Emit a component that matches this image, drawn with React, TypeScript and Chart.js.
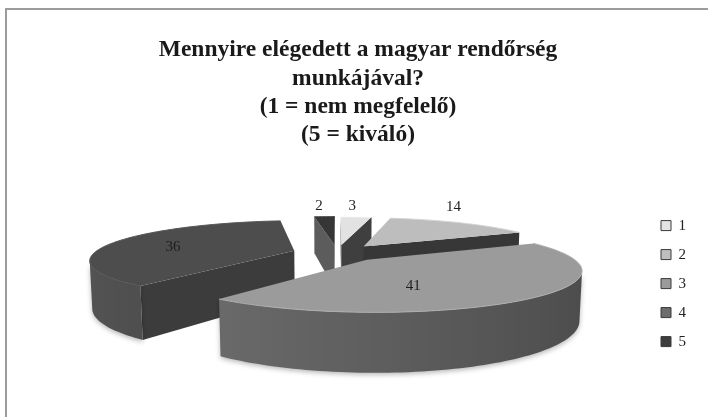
import React, { useEffect, useRef } from 'react';
import { Chart, registerables } from 'chart.js';

Chart.register(...registerables);

// ---------- data ----------
const categories = ['1', '2', '3', '4', '5'];
const values = [3, 14, 41, 36, 2];
const titleLines = [
  'Mennyire elégedett a magyar rendőrség',
  'munkájával?',
  '(1 = nem megfelelő)',
  '(5 = kiváló)',
];

// ---------- styles ----------
const legendColors = ['#e3e3e3', '#bfbfbf', '#9b9b9b', '#6d6d6d', '#3d3d3d'];
const topColors = ['#e2e2e2', '#bdbdbd', '#9b9b9b', '#4d4d4d', '#363636'];
const radialColors = ['#3f3f3f', '#373737', '#575757', '#3c3c3c', '#5c5c5c'];
const outerColors = ['#8c8c8c', '#7a7a7a', '#5e5e5e', '#464646', '#4a4a4a'];
const labelRadius = [0.7, 0.92, 0.59, 0.64, 0.7];
const labelAngleShift = [0, 0, 22, -6, -4];
const labelOutside = [true, true, false, false, true];

const SERIF = '"Times New Roman", "Liberation Serif", "DejaVu Serif", serif';

// 3D projection settings
const R = 200;
const H = 47;
const D = 900;
const SIN_T = 0.188;
const COS_T = Math.sqrt(1 - SIN_T * SIN_T);
const EXPLODE = 45;
const KX = 1;
const SHIFT_X = 3.7;
const SHIFT_Y = -30.6;

function rgbOf(hex: string, f: number): number[] {
  const n = parseInt(hex.slice(1), 16);
  return [(n >> 16) & 255, (n >> 8) & 255, n & 255].map((v) =>
    Math.max(0, Math.min(255, Math.round(v * f)))
  );
}
function shade(hex: string, f: number): string {
  const c = rgbOf(hex, f);
  return `rgb(${c[0]},${c[1]},${c[2]})`;
}

const pie3d = {
  id: 'pie3d',
  beforeDraw(chart: any) {
    const ctx = chart.ctx;
    ctx.save();
    ctx.fillStyle = '#ffffff';
    ctx.fillRect(0, 0, chart.width, chart.height);
    ctx.fillStyle = '#9c9c9c';
    ctx.fillRect(5, 8, chart.width, 2);
    ctx.fillRect(5, 8, 2, chart.height);
    ctx.restore();
  },
  beforeDatasetsDraw(chart: any) {
    const ctx = chart.ctx;
    const meta = chart.getDatasetMeta(0);
    const arcs = meta.data;
    if (!arcs.length) return false;
    const cx = arcs[0].x + SHIFT_X;
    const cy = arcs[0].y + SHIFT_Y;
    const cam = [0, D * SIN_T, D * COS_T];

    const project = (X: number, Y: number, Z: number) => {
      const up = Y * COS_T - Z * SIN_T;
      const fwd = D - (Y * SIN_T + Z * COS_T);
      const s = D / fwd;
      const sxs = 1 + (s - 1) * KX;
      return [cx + X * sxs, cy - up * s];
    };
    const visible = (n: number[], p: number[]) =>
      n[0] * (cam[0] - p[0]) + n[1] * (cam[1] - p[1]) + n[2] * (cam[2] - p[2]) > 0;
    const path = (pts: number[][]) => {
      ctx.beginPath();
      pts.forEach((p, i) => {
        const q = project(p[0], p[1], p[2]);
        if (i === 0) ctx.moveTo(q[0], q[1]);
        else ctx.lineTo(q[0], q[1]);
      });
      ctx.closePath();
    };
    const poly = (pts: number[][], fill: any) => {
      path(pts);
      ctx.fillStyle = fill;
      ctx.fill();
    };

    const slices = arcs.map((arc: any, i: number) => {
      const a0 = arc.startAngle;
      const a1 = arc.endAngle;
      const m = (a0 + a1) / 2;
      const ox = Math.cos(m) * EXPLODE;
      const oz = Math.sin(m) * EXPLODE;
      const ccx = ox + Math.cos(m) * R * 0.5;
      const ccz = oz + Math.sin(m) * R * 0.5;
      const dist = Math.hypot(cam[0] - ccx, cam[1], cam[2] - ccz);
      return { i, a0, a1, m, ox, oz, dist };
    });
    slices.sort((p: any, q: any) => q.dist - p.dist);

    ctx.save();
    const labelPos: any[] = [];
    slices.forEach((sl: any) => {
      const { i, a0, a1, ox, oz } = sl;
      const outer = (t: number, y: number) => [ox + Math.cos(t) * R, y, oz + Math.sin(t) * R];
      const n = Math.max(2, Math.ceil((a1 - a0) / (Math.PI / 120)));
      // radial faces
      const nStart = [Math.sin(a0), 0, -Math.cos(a0)];
      const pStart = outer(a0, 0);
      if (visible(nStart, [(ox + pStart[0]) / 2, -H / 2, (oz + pStart[2]) / 2])) {
        poly([[ox, 0, oz], outer(a0, 0), outer(a0, -H), [ox, -H, oz]], radialColors[i]);
      }
      const nEnd = [-Math.sin(a1), 0, Math.cos(a1)];
      const pEnd = outer(a1, 0);
      if (visible(nEnd, [(ox + pEnd[0]) / 2, -H / 2, (oz + pEnd[2]) / 2])) {
        poly([[ox, 0, oz], outer(a1, 0), outer(a1, -H), [ox, -H, oz]], radialColors[i]);
      }
      // outer curved side: contiguous visible runs drawn as one gradient polygon
      const vis: boolean[] = [];
      for (let k = 0; k < n; k++) {
        const tm = a0 + ((a1 - a0) * (k + 0.5)) / n;
        vis.push(visible([Math.cos(tm), 0, Math.sin(tm)], outer(tm, -H / 2)));
      }
      let k = 0;
      while (k < n) {
        if (!vis[k]) { k++; continue; }
        let e = k;
        while (e < n && vis[e]) e++;
        const ts: number[] = [];
        for (let j = k; j <= e; j++) ts.push(a0 + ((a1 - a0) * j) / n);
        const pts = ts.map((t) => outer(t, 0)).concat(ts.slice().reverse().map((t) => outer(t, -H)));
        const xs = ts.map((t) => project(...(outer(t, 0) as [number, number, number]))[0]);
        const xmin = Math.min(...xs);
        const xmax = Math.max(...xs);
        const g = ctx.createLinearGradient(xmin, 0, xmax + 0.001, 0);
        ts.forEach((t, j) => {
          const f = 1 - 0.2 * Math.cos(t);
          const pos = (xs[j] - xmin) / (xmax - xmin + 0.001);
          g.addColorStop(Math.max(0, Math.min(1, pos)), shade(outerColors[i], f));
        });
        ctx.save();
        ctx.shadowColor = 'rgba(0,0,0,0.28)';
        ctx.shadowBlur = 5;
        ctx.shadowOffsetY = 2;
        poly(pts, g);
        ctx.restore();
        k = e;
      }
      // top
      const top: number[][] = [[ox, 0, oz]];
      for (let q = 0; q <= n; q++) top.push(outer(a0 + ((a1 - a0) * q) / n, 0));
      poly(top, topColors[i]);
      // rim highlight
      ctx.beginPath();
      for (let q = 0; q <= n; q++) {
        const pp = project(...(outer(a0 + ((a1 - a0) * q) / n, 0) as [number, number, number]));
        if (q === 0) ctx.moveTo(pp[0], pp[1]);
        else ctx.lineTo(pp[0], pp[1]);
      }
      ctx.strokeStyle = shade(topColors[i], 1.12);
      ctx.lineWidth = 1;
      ctx.stroke();

      // label position
      const lr = labelRadius[i] * R;
      const la = sl.m + (labelAngleShift[i] * Math.PI) / 180;
      const lp = project(ox + Math.cos(la) * lr, 0, oz + Math.sin(la) * lr);
      let ly = lp[1];
      if (labelOutside[i]) {
        let minY = Infinity;
        top.forEach((p) => {
          const q = project(p[0], p[1], p[2]);
          minY = Math.min(minY, q[1]);
        });
        ly = minY - 11;
      }
      labelPos[i] = [lp[0], ly];
    });

    ctx.fillStyle = '#1e1e1e';
    ctx.font = `15px ${SERIF}`;
    ctx.textAlign = 'center';
    ctx.textBaseline = 'middle';
    values.forEach((v, i) => {
      const p = labelPos[i];
      if (p) ctx.fillText(String(v), p[0], p[1]);
    });
    ctx.restore();
    return false;
  },
};

export default function App() {
  const ref = useRef<HTMLCanvasElement>(null);
  useEffect(() => {
    const chart = new Chart(ref.current as HTMLCanvasElement, {
      type: 'pie',
      data: {
        labels: categories,
        datasets: [
          {
            data: values,
            backgroundColor: legendColors,
            borderColor: '#3a3a3a',
            borderWidth: 1,
          },
        ],
      },
      options: {
        responsive: false,
        animation: false,
        events: [],
        layout: { padding: { left: 20, right: 12, top: 0, bottom: 9 } },
        plugins: {
          title: {
            display: true,
            text: titleLines,
            color: '#1a1a1a',
            font: { family: SERIF, size: 23.5, weight: 'bold', lineHeight: 1.204 },
            padding: { top: 36, bottom: 10 },
          },
          legend: {
            display: true,
            position: 'right',
            fullSize: false,
            labels: {
              boxWidth: 10,
              boxHeight: 10,
              padding: 14,
              color: '#222222',
              font: { family: SERIF, size: 15 },
            },
          },
          tooltip: { enabled: false },
        },
      },
      plugins: [pie3d],
    } as any);
    return () => chart.destroy();
  }, []);
  return (
    <div style={{ position: 'absolute', left: 0, top: 0, width: 708, height: 417 }}>
      <canvas ref={ref} width={708} height={417} style={{ display: 'block' }} />
    </div>
  );
}
